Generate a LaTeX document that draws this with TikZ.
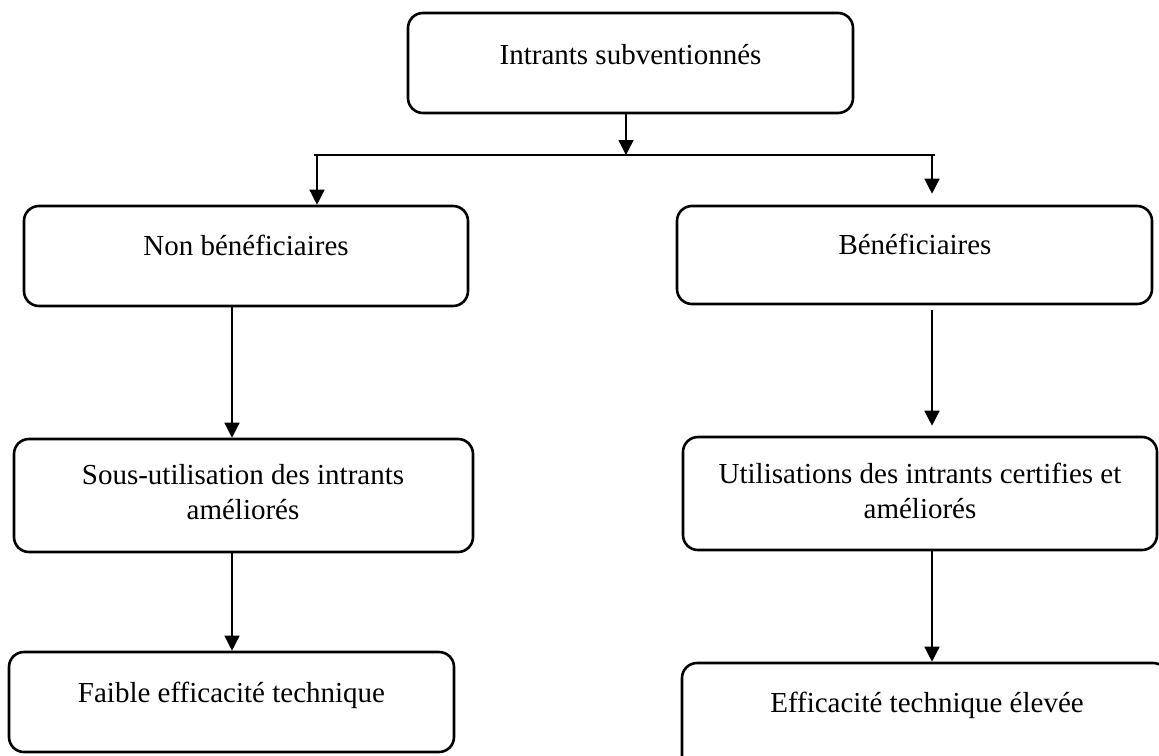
\documentclass[tikz,border=0pt]{standalone}
\usepackage{fontspec}
\setmainfont{Liberation Serif}
\usetikzlibrary{arrows.meta}
\tikzset{
  boxnode/.style={draw=black, line width=2.6pt, rounded corners=15pt, inner sep=0pt, fill=none},
  lbl/.style={inner sep=0pt, font=\fontsize{29}{35}\selectfont, align=center},
  conn/.style={draw=black, line width=1.4pt, -{Triangle[width=15pt,length=15pt]}},
  plainconn/.style={draw=black, line width=1.4pt}
}
\begin{document}
\begin{tikzpicture}[x=1pt,y=-1pt]
\clip (0,0) rectangle (1159,755);
\fill[white] (0,0) rectangle (1159,755);

% boxes
\node[boxnode, minimum width=445pt, minimum height=100pt] (top) at (630.5,63) {};
\node[boxnode, minimum width=444pt, minimum height=100pt] (nb) at (246,256) {};
\node[boxnode, minimum width=459pt, minimum height=113pt] (su) at (243.5,495.5) {};
\node[boxnode, minimum width=445pt, minimum height=100pt] (fe) at (231.5,702) {};
\node[boxnode, minimum width=475pt, minimum height=98pt] (be) at (914.5,255) {};
\node[boxnode, minimum width=474pt, minimum height=113pt] (ut) at (920,493.5) {};
\node[boxnode, minimum width=486pt, minimum height=137pt] (ee) at (925,731.5) {};

% labels
\node[lbl, anchor=base] (ttop) at (630.5,64) {Intrants subventionnés};
\node[lbl, anchor=base] (tnb) at (246,255) {Non bénéficiaires};
\node[lbl, anchor=base] (tbe) at (915,254) {Bénéficiaires};
\node[lbl] (tsu) at (243,491.6) {Sous-utilisation des intrants\\améliorés};
\node[lbl] (tut) at (920,490.6) {Utilisations des intrants certifies et\\améliorés};
\node[lbl, anchor=base] (tfe) at (231.5,702) {Faible efficacité technique};
\node[lbl, anchor=base] (tee) at (927,712) {Efficacité technique élevée};

% splitter
\coordinate (hm) at (626,155);
\coordinate (hl) at (314,155);
\coordinate (hr) at (935,155);
\coordinate (al) at (317,155);
\coordinate (ar) at (932,155);
\coordinate (colL) at (232,0);
\coordinate (colR) at (932,0);

\draw[conn] (top.south -| hm) -- (hm);
\draw[plainconn] (hl) -- (hr);
\draw[conn] (al) -- (al |- nb.north);
\draw[conn, shorten >=11pt] (ar) -- (ar |- be.north);

% left column
\draw[conn] (colL |- nb.south) -- (colL |- su.north);
\draw[conn] (colL |- su.south) -- (colL |- fe.north);

% right column
\draw[conn, shorten <=5pt, shorten >=10pt] (colR |- be.south) -- (colR |- ut.north);
\draw[conn] (colR |- ut.south) -- (colR |- ee.north);
\end{tikzpicture}
\end{document}
